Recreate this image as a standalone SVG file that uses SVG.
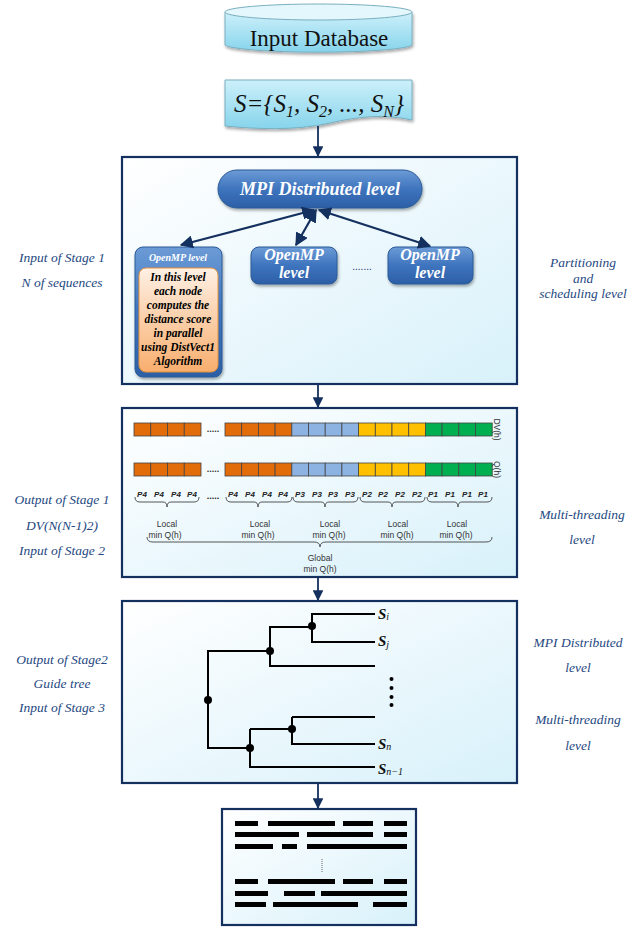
<svg xmlns="http://www.w3.org/2000/svg" width="644" height="927" viewBox="0 0 644 927">
<style>
.side{font-family:"Liberation Serif",serif;font-style:italic;font-size:13.5px;fill:#24487F;text-anchor:middle}
.frame{fill:url(#boxg);stroke:#14305F;stroke-width:2.2}
.conn{stroke:#14305F;stroke-width:1.8;fill:none}
.dbl{stroke:#14305F;stroke-width:2.2;fill:none}
.pill{fill:url(#pillg);stroke:#2A5A96;stroke-width:1}
.wt{font-family:"Liberation Serif",serif;font-style:italic;font-weight:bold;fill:#fff;text-anchor:middle}
.inner{font-family:"Liberation Serif",serif;font-style:italic;font-weight:bold;font-size:11.5px;fill:#000;text-anchor:middle}
.cell{stroke:#444;stroke-width:0.8}
.o{fill:#E36C0A}.b{fill:#8DB3E2}.y{fill:#FFC000}.g{fill:#00B050}
.p{font-family:"Liberation Sans",sans-serif;font-style:italic;font-weight:bold;font-size:8px;fill:#222;text-anchor:middle}
.loc{font-family:"Liberation Sans",sans-serif;font-size:8.5px;fill:#333;text-anchor:middle}
.brace{stroke:#444;stroke-width:0.9;fill:none}
.tree{stroke:#000;stroke-width:2;fill:none}
.leaf{font-family:"Liberation Serif",serif;font-style:italic;font-weight:bold;font-size:15px;fill:#111}
.bar{fill:#000}
</style>
<defs>
<linearGradient id="boxg" x1="0" y1="0" x2="1" y2="1">
<stop offset="0" stop-color="#FFFFFF"/><stop offset="1" stop-color="#D8F1FA"/>
</linearGradient>
<linearGradient id="cyan" x1="0" y1="0" x2="0" y2="1">
<stop offset="0" stop-color="#CDF0FA"/><stop offset="1" stop-color="#86D4EC"/>
</linearGradient>
<linearGradient id="pillg" x1="0" y1="0" x2="0" y2="1">
<stop offset="0" stop-color="#6C9BD6"/><stop offset="0.5" stop-color="#3E74BE"/><stop offset="1" stop-color="#2C5FA6"/>
</linearGradient>
<linearGradient id="orng" x1="0" y1="0" x2="0" y2="1">
<stop offset="0" stop-color="#FEF0E4"/><stop offset="1" stop-color="#F8AE6E"/>
</linearGradient>
<filter id="sh" x="-10%" y="-10%" width="130%" height="140%">
<feDropShadow dx="1" dy="2" stdDeviation="1.5" flood-color="#000" flood-opacity="0.35"/>
</filter>
<marker id="ah" viewBox="0 0 10 10" refX="9" refY="5" markerWidth="6" markerHeight="6" orient="auto-start-reverse">
<path d="M0,0 L10,5 L0,10 Z" fill="#14305F"/>
</marker>
</defs>

<g id="database">
<path d="M225,12 V45 A94,8 0 0 0 412,45 V12" fill="url(#cyan)" stroke="#7AAFC0" stroke-width="1" filter="url(#sh)"/>
<ellipse cx="318.5" cy="12" rx="93.5" ry="8" fill="#E4F7FC" stroke="#7AAFC0" stroke-width="1"/>
<text x="319" y="46" font-family="Liberation Serif,serif" font-size="23" fill="#111" text-anchor="middle">Input Database</text>
</g>

<g id="sequences">
<path d="M225,80 H412 V120 C385,114 360,116 330,123 C295,131 255,129 225,126 Z" fill="url(#cyan)" stroke="#7AAFC0" stroke-width="1" filter="url(#sh)"/>
<text x="319" y="112" font-family="Liberation Serif,serif" font-style="italic" font-size="25" fill="#111" text-anchor="middle">S={S<tspan font-size="16" dy="5">1</tspan><tspan dy="-5">, S</tspan><tspan font-size="16" dy="5">2</tspan><tspan dy="-5">, ..., S</tspan><tspan font-size="16" dy="5">N</tspan><tspan dy="-5">}</tspan></text>
</g>

<g id="stage1">
<rect class="frame" x="122" y="157" width="395" height="227"/>
<g id="mpi">
<rect class="pill" x="218" y="170" width="204" height="38" rx="19" filter="url(#sh)"/>
<text class="wt" x="320" y="195" font-size="18">MPI Distributed level</text>
</g>
<g id="openmp1">
<rect class="pill" x="135" y="247" width="87" height="130" rx="8" filter="url(#sh)"/>
<text class="wt" x="178" y="261" font-size="10" font-weight="normal">OpenMP level</text>
<rect x="139" y="268" width="79" height="104" rx="7" fill="url(#orng)" stroke="#E69138" stroke-width="1"/>
<text class="inner" x="178" y="281">In this level</text>
<text class="inner" x="178" y="295">each node</text>
<text class="inner" x="178" y="309">computes the</text>
<text class="inner" x="178" y="323">distance score</text>
<text class="inner" x="178" y="337">in parallel</text>
<text class="inner" x="178" y="351">using DistVect1</text>
<text class="inner" x="178" y="365">Algorithm</text>
</g>
<g id="openmp2">
<rect class="pill" x="251" y="247" width="86" height="37" rx="8" filter="url(#sh)"/>
<text class="wt" x="294" y="260" font-size="16">OpenMP</text>
<text class="wt" x="294" y="278" font-size="16">level</text>
</g>
<text x="362" y="270" font-family="Liberation Sans,sans-serif" font-size="10" fill="#14305F" text-anchor="middle">.......</text>
<g id="openmp3">
<rect class="pill" x="388" y="247" width="85" height="37" rx="8" filter="url(#sh)"/>
<text class="wt" x="430" y="260" font-size="16">OpenMP</text>
<text class="wt" x="430" y="278" font-size="16">level</text>
</g>
</g>

<g id="stage2">
<rect class="frame" x="122" y="408" width="395" height="169"/>
<g id="dv">
<rect class="cell o" x="134" y="423" width="16.75" height="13"/><rect class="cell o" x="150.75" y="423" width="16.75" height="13"/><rect class="cell o" x="167.5" y="423" width="16.75" height="13"/><rect class="cell o" x="184.25" y="423" width="16.75" height="13"/>
<rect class="cell o" x="225" y="423" width="16.7" height="13"/><rect class="cell o" x="241.7" y="423" width="16.7" height="13"/><rect class="cell o" x="258.4" y="423" width="16.7" height="13"/><rect class="cell o" x="275.1" y="423" width="16.7" height="13"/>
<rect class="cell b" x="291.8" y="423" width="16.7" height="13"/><rect class="cell b" x="308.5" y="423" width="16.7" height="13"/><rect class="cell b" x="325.2" y="423" width="16.7" height="13"/><rect class="cell b" x="341.9" y="423" width="16.7" height="13"/>
<rect class="cell y" x="358.6" y="423" width="16.7" height="13"/><rect class="cell y" x="375.3" y="423" width="16.7" height="13"/><rect class="cell y" x="392" y="423" width="16.7" height="13"/><rect class="cell y" x="408.7" y="423" width="16.7" height="13"/>
<rect class="cell g" x="425.4" y="423" width="16.7" height="13"/><rect class="cell g" x="442.1" y="423" width="16.7" height="13"/><rect class="cell g" x="458.8" y="423" width="16.7" height="13"/><rect class="cell g" x="475.5" y="423" width="16.7" height="13"/>
<text x="213" y="432" font-family="Liberation Sans,sans-serif" font-size="9" font-weight="bold" fill="#333" text-anchor="middle">.....</text>
<text transform="translate(494,429.5) rotate(90)" font-family="Liberation Sans,sans-serif" font-size="8.5" fill="#333" text-anchor="middle">DV(h)</text>
</g>
<g id="qh">
<rect class="cell o" x="134" y="463" width="16.75" height="13"/><rect class="cell o" x="150.75" y="463" width="16.75" height="13"/><rect class="cell o" x="167.5" y="463" width="16.75" height="13"/><rect class="cell o" x="184.25" y="463" width="16.75" height="13"/>
<rect class="cell o" x="225" y="463" width="16.7" height="13"/><rect class="cell o" x="241.7" y="463" width="16.7" height="13"/><rect class="cell o" x="258.4" y="463" width="16.7" height="13"/><rect class="cell o" x="275.1" y="463" width="16.7" height="13"/>
<rect class="cell b" x="291.8" y="463" width="16.7" height="13"/><rect class="cell b" x="308.5" y="463" width="16.7" height="13"/><rect class="cell b" x="325.2" y="463" width="16.7" height="13"/><rect class="cell b" x="341.9" y="463" width="16.7" height="13"/>
<rect class="cell y" x="358.6" y="463" width="16.7" height="13"/><rect class="cell y" x="375.3" y="463" width="16.7" height="13"/><rect class="cell y" x="392" y="463" width="16.7" height="13"/><rect class="cell y" x="408.7" y="463" width="16.7" height="13"/>
<rect class="cell g" x="425.4" y="463" width="16.7" height="13"/><rect class="cell g" x="442.1" y="463" width="16.7" height="13"/><rect class="cell g" x="458.8" y="463" width="16.7" height="13"/><rect class="cell g" x="475.5" y="463" width="16.7" height="13"/>
<text x="213" y="472" font-family="Liberation Sans,sans-serif" font-size="9" font-weight="bold" fill="#333" text-anchor="middle">.....</text>
<text transform="translate(494,469.5) rotate(90)" font-family="Liberation Sans,sans-serif" font-size="8.5" fill="#333" text-anchor="middle">Q(h)</text>
</g>
<g id="plabels">
<text class="p" x="142" y="497">P4</text><text class="p" x="159" y="497">P4</text><text class="p" x="176" y="497">P4</text><text class="p" x="192" y="497">P4</text>
<text x="213" y="499" font-family="Liberation Sans,sans-serif" font-size="9" font-weight="bold" fill="#222" text-anchor="middle">.....</text>
<text class="p" x="233" y="497">P4</text><text class="p" x="250" y="497">P4</text><text class="p" x="267" y="497">P4</text><text class="p" x="283" y="497">P4</text>
<text class="p" x="300" y="497">P3</text><text class="p" x="317" y="497">P3</text><text class="p" x="333" y="497">P3</text><text class="p" x="350" y="497">P3</text>
<text class="p" x="367" y="497">P2</text><text class="p" x="383" y="497">P2</text><text class="p" x="400" y="497">P2</text><text class="p" x="417" y="497">P2</text>
<text class="p" x="433" y="497">P1</text><text class="p" x="450" y="497">P1</text><text class="p" x="467" y="497">P1</text><text class="p" x="483" y="497">P1</text>
</g>
<g id="braces">
<path class="brace" d="M135,497 Q135,502 140,502 L163,502 Q167,502 167,507 Q167,502 171,502 L194,502 Q199,502 199,497"/>
<path class="brace" d="M226,497 Q226,502 231,502 L254,502 Q258,502 258,507 Q258,502 262,502 L287,502 Q292,502 292,497"/>
<path class="brace" d="M293,497 Q293,502 298,502 L321,502 Q325,502 325,507 Q325,502 329,502 L353,502 Q358,502 358,497"/>
<path class="brace" d="M360,497 Q360,502 365,502 L388,502 Q392,502 392,507 Q392,502 396,502 L420,502 Q425,502 425,497"/>
<path class="brace" d="M427,497 Q427,502 432,502 L454,502 Q458,502 458,507 Q458,502 462,502 L487,502 Q492,502 492,497"/>
<path class="brace" d="M147,537 Q147,542 153,542 L314,542 Q320,542 320,547 Q320,542 326,542 L486,542 Q492,542 492,537"/>
</g>
<g id="locals">
<text class="loc" x="167" y="527">Local</text><text class="loc" x="165" y="538">min Q(h)</text>
<text class="loc" x="260" y="527">Local</text><text class="loc" x="258" y="538">min Q(h)</text>
<text class="loc" x="330" y="527">Local</text><text class="loc" x="329" y="538">min Q(h)</text>
<text class="loc" x="398" y="527">Local</text><text class="loc" x="397" y="538">min Q(h)</text>
<text class="loc" x="457" y="527">Local</text><text class="loc" x="456" y="538">min Q(h)</text>
<text class="loc" x="320" y="561">Global</text><text class="loc" x="320" y="572">min Q(h)</text>
</g>
</g>

<g id="stage3">
<rect class="frame" x="122" y="601" width="395" height="182"/>
<g id="tree">
<path class="tree" d="M375,614 H312 V642 H375 M312,627 H270 V666 H375 M270,651 H208 V748 H250 M250,729 V767 H375 M250,729 H292 V744 H375 M292,717 H375 M292,717 V729"/>
<circle cx="312" cy="626" r="4"/><circle cx="270" cy="651" r="4"/><circle cx="208" cy="700" r="4"/>
<circle cx="292" cy="729" r="4"/><circle cx="250" cy="748" r="4"/>
<circle cx="391.5" cy="679" r="2"/><circle cx="391.5" cy="688" r="2"/><circle cx="391.5" cy="697" r="2"/><circle cx="391.5" cy="705" r="2"/>
<text class="leaf" x="378" y="619">S<tspan font-size="10" font-weight="normal" dy="1">i</tspan></text>
<text class="leaf" x="378" y="646">S<tspan font-size="10" font-weight="normal" dy="2">j</tspan></text>
<text class="leaf" x="378" y="749">S<tspan font-size="10" font-weight="normal" dy="1">n</tspan></text>
<text class="leaf" x="378" y="774">S<tspan font-size="10" font-weight="normal" dy="1">n−1</tspan></text>
</g>
</g>

<g id="msa">
<rect class="frame" x="222" y="809" width="194" height="116"/>
<g class="bar">
<rect x="235" y="821" width="23" height="5"/><rect x="268" y="821" width="67" height="5"/><rect x="343" y="821" width="30" height="5"/><rect x="384" y="821" width="23" height="5"/>
<rect x="235" y="832" width="64" height="5"/><rect x="307" y="832" width="66" height="5"/><rect x="384" y="832" width="23" height="5"/>
<rect x="235" y="844" width="38" height="5"/><rect x="282" y="844" width="15" height="5"/><rect x="307" y="844" width="100" height="5"/>
<rect x="235" y="879" width="23" height="5"/><rect x="268" y="879" width="67" height="5"/><rect x="343" y="879" width="30" height="5"/><rect x="384" y="879" width="23" height="5"/>
<rect x="235" y="891" width="33" height="5"/><rect x="284" y="891" width="31" height="5"/><rect x="321" y="891" width="86" height="5"/>
<rect x="235" y="902" width="31" height="5"/><rect x="273" y="902" width="85" height="5"/><rect x="373" y="902" width="34" height="5"/>
</g>
<line x1="322" y1="859" x2="322" y2="872" stroke="#666" stroke-width="1" stroke-dasharray="1,1"/>
</g>

<g id="side-labels">
<text class="side" x="62" y="262">Input of Stage 1</text>
<text class="side" x="62" y="287">N of sequences</text>
<text class="side" x="583" y="267">Partitioning</text>
<text class="side" x="583" y="283">and</text>
<text class="side" x="583" y="298">scheduling level</text>
<text class="side" x="62" y="504">Output of Stage 1</text>
<text class="side" x="62" y="530">DV(N(N-1)2)</text>
<text class="side" x="62" y="555">Input of Stage 2</text>
<text class="side" x="582" y="519">Multi-threading</text>
<text class="side" x="582" y="544">level</text>
<text class="side" x="62" y="664">Output of Stage2</text>
<text class="side" x="62" y="688">Guide tree</text>
<text class="side" x="62" y="712">Input of Stage 3</text>
<text class="side" x="578" y="647">MPI Distributed</text>
<text class="side" x="578" y="672">level</text>
<text class="side" x="578" y="724">Multi-threading</text>
<text class="side" x="578" y="750">level</text>
</g>

<g id="connectors">
<line class="conn" x1="318" y1="126" x2="318" y2="156" marker-end="url(#ah)"/>
<line class="conn" x1="318" y1="385" x2="318" y2="407" marker-end="url(#ah)"/>
<line class="conn" x1="318" y1="578" x2="318" y2="600" marker-end="url(#ah)"/>
<line class="conn" x1="318" y1="784" x2="318" y2="808" marker-end="url(#ah)"/>
<line class="dbl" x1="314" y1="210" x2="181" y2="245" marker-start="url(#ah)" marker-end="url(#ah)"/>
<line class="dbl" x1="316" y1="210" x2="296" y2="245" marker-start="url(#ah)" marker-end="url(#ah)"/>
<line class="dbl" x1="319" y1="210" x2="430" y2="246" marker-start="url(#ah)" marker-end="url(#ah)"/>
</g>
</svg>
